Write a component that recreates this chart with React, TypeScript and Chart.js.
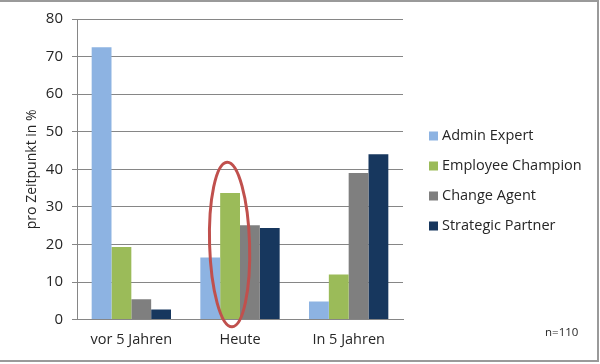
import React, { useEffect, useRef } from "react";
import { Chart, registerables } from "chart.js";

Chart.register(...registerables);

const categories = ["vor 5 Jahren", "Heute", "In 5 Jahren"];
const seriesNames = ["Admin Expert", "Employee Champion", "Change Agent", "Strategic Partner"];
const adminExpert = [72.5, 16.5, 4.8];
const employeeChampion = [19.3, 33.7, 12];
const changeAgent = [5.4, 25.1, 39];
const strategicPartner = [2.7, 24.4, 44];
const colors = ["#8db3e2", "#9bbb59", "#7f7f7f", "#17375e"];
const yTicks = [0, 10, 20, 30, 40, 50, 60, 70, 80];
const yTitle = "pro Zeitpunkt in %";
const note = "n=110";

const FONT = "'Open Sans', sans-serif";

const extrasPlugin = {
  id: "extras",
  afterDraw(chart: any) {
    const ctx = chart.ctx;
    ctx.save();
    // frame
    ctx.strokeStyle = "#9a9a9a";
    ctx.lineWidth = 2;
    ctx.beginPath();
    ctx.moveTo(0, 1);
    ctx.lineTo(598, 1);
    ctx.lineTo(598, 361);
    ctx.lineTo(0, 361);
    ctx.stroke();

    // legend
    ctx.font = `14.5px ${FONT}`;
    ctx.textBaseline = "middle";
    ctx.textAlign = "left";
    chart.data.datasets.forEach((ds: any, i: number) => {
      const y = 136 + i * 30;
      ctx.fillStyle = ds.backgroundColor;
      ctx.fillRect(429, y - 4.5, 9, 9);
      ctx.fillStyle = "#262626";
      ctx.fillText(ds.label, 442, y);
    });

    // note
    ctx.font = `11.5px ${FONT}`;
    ctx.fillStyle = "#262626";
    ctx.fillText(note, 545, 333);

    // ellipse around highlighted bar
    const bar = chart.getDatasetMeta(1).data[1];
    const ys = chart.scales.y;
    const yTop = ys.getPixelForValue(41.9);
    const yBot = ys.getPixelForValue(-1.9);
    ctx.strokeStyle = "#c0504d";
    ctx.lineWidth = 3;
    ctx.beginPath();
    ctx.ellipse(bar.x - 0.5, (yTop + yBot) / 2, 20, (yBot - yTop) / 2, -0.03, 0, Math.PI * 2);
    ctx.stroke();
    ctx.restore();
  },
};

export default function App() {
  const ref = useRef<HTMLCanvasElement>(null);
  useEffect(() => {
    document.body.style.margin = "0";
    const data = [adminExpert, employeeChampion, changeAgent, strategicPartner];
    const chart = new Chart(ref.current!, {
      type: "bar",
      data: {
        labels: categories,
        datasets: seriesNames.map((name, i) => ({
          label: name,
          data: data[i],
          backgroundColor: colors[i],
          borderWidth: 0,
          categoryPercentage: 0.73,
          barPercentage: 1,
        })),
      },
      options: {
        animation: false,
        responsive: false,
        layout: { padding: { top: 19, right: 197, bottom: 3, left: 0 } },
        plugins: { legend: { display: false }, tooltip: { enabled: false } },
        scales: {
          x: {
            grid: { display: false, drawTicks: false },
            border: { color: "#868686", width: 1 },
            ticks: { color: "#262626", font: { family: FONT, size: 14.5 }, padding: 12 },
          },
          y: {
            min: 0,
            max: 80,
            afterBuildTicks: (s: any) => {
              s.ticks = yTicks.map((v) => ({ value: v }));
            },
            afterFit: (s: any) => {
              s.width = 77;
            },
            grid: { color: "#868686", tickLength: 5, lineWidth: 1 },
            border: { color: "#868686" },
            ticks: { color: "#262626", font: { family: FONT, size: 15 }, padding: 9 },
            title: {
              display: true,
              text: yTitle,
              color: "#262626",
              font: { family: FONT, size: 14 },
              padding: { top: 24, bottom: 0 },
            },
          },
        },
      },
      plugins: [extrasPlugin],
    });
    return () => chart.destroy();
  }, []);
  return <canvas ref={ref} width={600} height={364} style={{ display: "block" }} />;
}
